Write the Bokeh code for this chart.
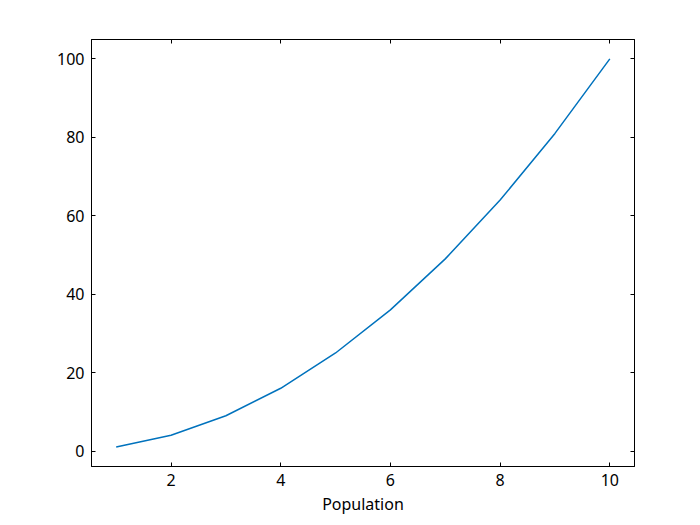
from bokeh.plotting import figure
from bokeh.models import LinearAxis, Range1d, FixedTicker
from bokeh.embed import file_html
from bokeh.resources import INLINE

x_vals = [1, 2, 3, 4, 5, 6, 7, 8, 9, 10]
y_vals = [1, 4, 9, 16, 25, 36, 49, 64, 81, 100]
x_ticks = [2, 4, 6, 8, 10]
y_ticks = [0, 20, 40, 60, 80, 100]
x_label = "Population"

FONT = "Noto Sans"

p = figure(width=692, height=517, output_backend="svg", toolbar_location=None,
           x_range=Range1d(0.55, 10.45), y_range=Range1d(-3.95, 104.95),
           x_axis_location=None, y_axis_location=None,
           min_border_left=91, min_border_right=58, min_border_top=39, min_border_bottom=50)
p.grid.visible = False
p.outline_line_color = "black"
p.outline_line_width = 1
p.background_fill_color = "white"
p.border_fill_color = "white"

def style(ax, labels=True):
    ax.major_tick_in = 4
    ax.major_tick_out = 0
    ax.minor_tick_line_color = None
    ax.axis_line_color = "black"
    ax.major_tick_line_color = "black"
    ax.major_label_text_font = FONT
    ax.major_label_text_font_size = "16px"
    ax.major_label_text_color = "black"
    ax.major_label_standoff = 7
    if not labels:
        ax.major_label_text_color = None
        ax.major_label_standoff = 0

bx = LinearAxis(ticker=FixedTicker(ticks=x_ticks), axis_label=x_label)
style(bx)
bx.axis_label_text_font = FONT
bx.axis_label_text_font_size = "16px"
bx.axis_label_text_font_style = "normal"
bx.axis_label_text_color = "black"
bx.axis_label_standoff = 4
p.add_layout(bx, "below")

ly = LinearAxis(ticker=FixedTicker(ticks=y_ticks))
style(ly)
p.add_layout(ly, "left")

ax2 = LinearAxis(ticker=FixedTicker(ticks=x_ticks))
style(ax2, labels=False)
p.add_layout(ax2, "above")

ry = LinearAxis(ticker=FixedTicker(ticks=y_ticks))
style(ry, labels=False)
p.add_layout(ry, "right")

p.line(x_vals, y_vals, line_color="#0072BD", line_width=1.5)

open("out.html", "w").write(file_html(p, INLINE))
